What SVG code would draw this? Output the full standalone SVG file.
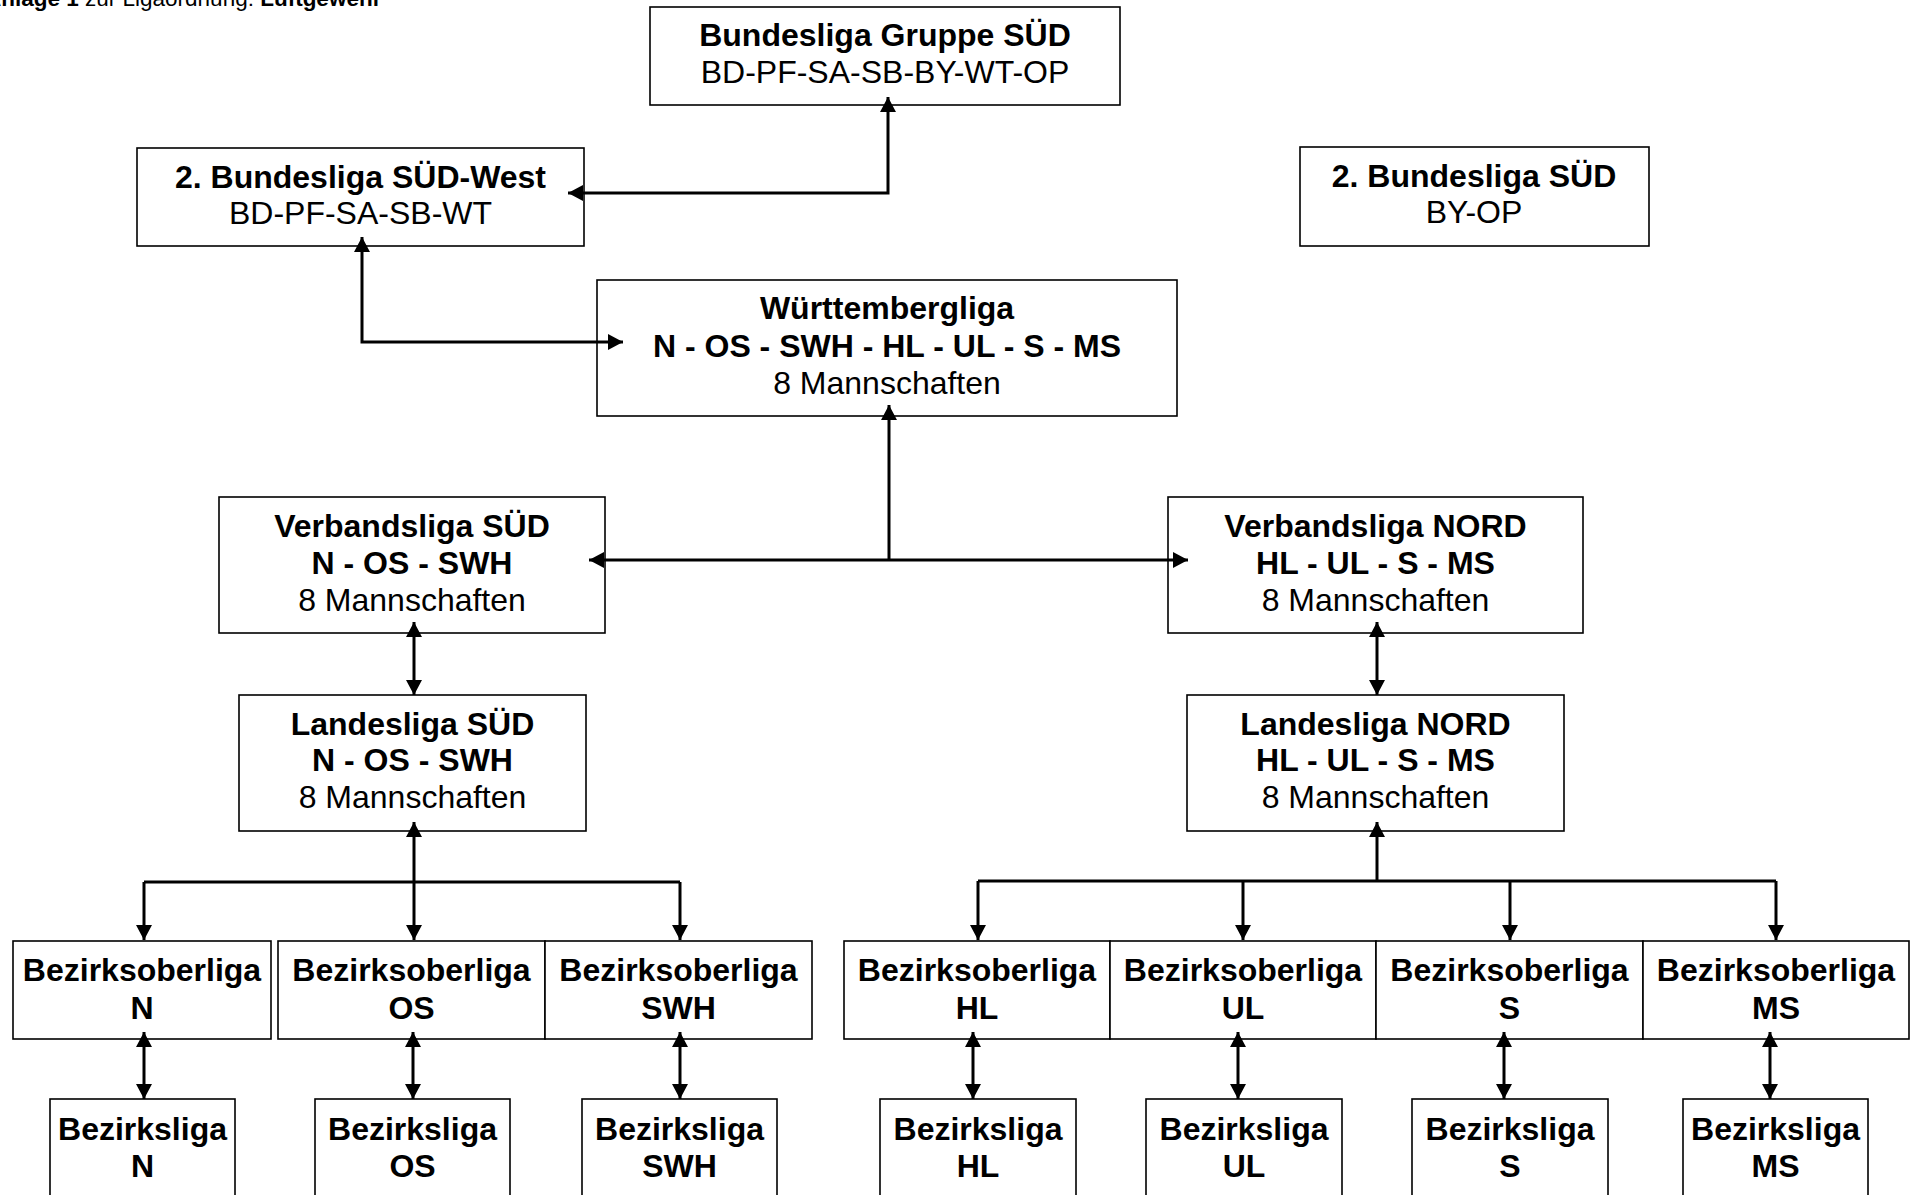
<svg xmlns="http://www.w3.org/2000/svg" width="1910" height="1195" viewBox="0 0 1910 1195">
<defs>
<style>
.box{fill:#fff;stroke:#000;stroke-width:1.6}
.c{fill:none;stroke:#000;stroke-width:3}
text{font-family:"Liberation Sans",Arial,sans-serif;font-size:32px;text-anchor:middle;fill:#000}
.b{font-weight:bold}
.hd{font-size:22.5px;text-anchor:start}
</style>
<marker id="ah" viewBox="0 0 15 16" refX="15" refY="8" markerWidth="15" markerHeight="16" markerUnits="userSpaceOnUse" orient="auto-start-reverse">
<path d="M0,0 L15,8 L0,16 z" fill="#000"/>
</marker>
</defs>
<rect width="1910" height="1195" fill="#fff"/>
<text class="hd" x="-15" y="6"><tspan class="b">Anlage 1</tspan> zur Ligaordnung: <tspan class="b">Luftgewehr</tspan></text>

<g id="bl-gruppe-sued">
<rect class="box" x="650" y="7" width="470" height="98"/>
<text x="885" y="46" class="b">Bundesliga Gruppe SÜD</text>
<text x="885" y="83">BD-PF-SA-SB-BY-WT-OP</text>
</g>
<g id="bl2-sued-west">
<rect class="box" x="137" y="148" width="447" height="98"/>
<text x="360.5" y="188" class="b">2. Bundesliga SÜD-West</text>
<text x="360.5" y="224">BD-PF-SA-SB-WT</text>
</g>
<g id="bl2-sued">
<rect class="box" x="1300" y="147" width="349" height="99"/>
<text x="1474" y="187" class="b">2. Bundesliga SÜD</text>
<text x="1474" y="223">BY-OP</text>
</g>
<g id="wuerttembergliga">
<rect class="box" x="597" y="280" width="580" height="136"/>
<text x="887" y="319" class="b">Württembergliga</text>
<text x="887" y="357" class="b">N - OS - SWH - HL - UL - S - MS</text>
<text x="887" y="394">8 Mannschaften</text>
</g>
<g id="verbandsliga-sued">
<rect class="box" x="219" y="497" width="386" height="136"/>
<text x="412" y="537" class="b">Verbandsliga SÜD</text>
<text x="412" y="574" class="b">N - OS - SWH</text>
<text x="412" y="611">8 Mannschaften</text>
</g>
<g id="verbandsliga-nord">
<rect class="box" x="1168" y="497" width="415" height="136"/>
<text x="1375.5" y="537" class="b">Verbandsliga NORD</text>
<text x="1375.5" y="574" class="b">HL - UL - S - MS</text>
<text x="1375.5" y="611">8 Mannschaften</text>
</g>
<g id="landesliga-sued">
<rect class="box" x="239" y="695" width="347" height="136"/>
<text x="412.5" y="735" class="b">Landesliga SÜD</text>
<text x="412.5" y="771" class="b">N - OS - SWH</text>
<text x="412.5" y="808">8 Mannschaften</text>
</g>
<g id="landesliga-nord">
<rect class="box" x="1187" y="695" width="377" height="136"/>
<text x="1375.5" y="735" class="b">Landesliga NORD</text>
<text x="1375.5" y="771" class="b">HL - UL - S - MS</text>
<text x="1375.5" y="808">8 Mannschaften</text>
</g>

<g id="bol-n"><rect class="box" x="13" y="941" width="258" height="98"/><text x="142" y="981" class="b">Bezirksoberliga</text><text x="142" y="1019" class="b">N</text></g>
<g id="bol-os"><rect class="box" x="278" y="941" width="267" height="98"/><text x="411.5" y="981" class="b">Bezirksoberliga</text><text x="411.5" y="1019" class="b">OS</text></g>
<g id="bol-swh"><rect class="box" x="545" y="941" width="267" height="98"/><text x="678.5" y="981" class="b">Bezirksoberliga</text><text x="678.5" y="1019" class="b">SWH</text></g>
<g id="bol-hl"><rect class="box" x="844" y="941" width="266" height="98"/><text x="977" y="981" class="b">Bezirksoberliga</text><text x="977" y="1019" class="b">HL</text></g>
<g id="bol-ul"><rect class="box" x="1110" y="941" width="266" height="98"/><text x="1243" y="981" class="b">Bezirksoberliga</text><text x="1243" y="1019" class="b">UL</text></g>
<g id="bol-s"><rect class="box" x="1376" y="941" width="267" height="98"/><text x="1509.5" y="981" class="b">Bezirksoberliga</text><text x="1509.5" y="1019" class="b">S</text></g>
<g id="bol-ms"><rect class="box" x="1643" y="941" width="266" height="98"/><text x="1776" y="981" class="b">Bezirksoberliga</text><text x="1776" y="1019" class="b">MS</text></g>

<g id="bl-n"><rect class="box" x="50" y="1099" width="185" height="120"/><text x="142.5" y="1140" class="b">Bezirksliga</text><text x="142.5" y="1177" class="b">N</text></g>
<g id="bl-os"><rect class="box" x="315" y="1099" width="195" height="120"/><text x="412.5" y="1140" class="b">Bezirksliga</text><text x="412.5" y="1177" class="b">OS</text></g>
<g id="bl-swh"><rect class="box" x="582" y="1099" width="195" height="120"/><text x="679.5" y="1140" class="b">Bezirksliga</text><text x="679.5" y="1177" class="b">SWH</text></g>
<g id="bl-hl"><rect class="box" x="880" y="1099" width="196" height="120"/><text x="978" y="1140" class="b">Bezirksliga</text><text x="978" y="1177" class="b">HL</text></g>
<g id="bl-ul"><rect class="box" x="1146" y="1099" width="196" height="120"/><text x="1244" y="1140" class="b">Bezirksliga</text><text x="1244" y="1177" class="b">UL</text></g>
<g id="bl-s"><rect class="box" x="1412" y="1099" width="196" height="120"/><text x="1510" y="1140" class="b">Bezirksliga</text><text x="1510" y="1177" class="b">S</text></g>
<g id="bl-ms"><rect class="box" x="1683" y="1099" width="185" height="120"/><text x="1775.5" y="1140" class="b">Bezirksliga</text><text x="1775.5" y="1177" class="b">MS</text></g>

<g id="connectors">
<path class="c" d="M568,193 H888 V97" marker-start="url(#ah)" marker-end="url(#ah)"/>
<path class="c" d="M362,237 V342 H623" marker-start="url(#ah)" marker-end="url(#ah)"/>
<path class="c" d="M889,405 V560" marker-start="url(#ah)"/>
<path class="c" d="M589,560 H1188" marker-start="url(#ah)" marker-end="url(#ah)"/>
<path class="c" d="M414,622 V695" marker-start="url(#ah)" marker-end="url(#ah)"/>
<path class="c" d="M1377,622 V695" marker-start="url(#ah)" marker-end="url(#ah)"/>
<path class="c" d="M414,822 V940" marker-start="url(#ah)" marker-end="url(#ah)"/>
<path class="c" d="M144,882 H680"/>
<path class="c" d="M144,882 V940" marker-end="url(#ah)"/>
<path class="c" d="M680,882 V940" marker-end="url(#ah)"/>
<path class="c" d="M1377,822 V881" marker-start="url(#ah)"/>
<path class="c" d="M978,881 H1776"/>
<path class="c" d="M978,881 V940" marker-end="url(#ah)"/>
<path class="c" d="M1243,881 V940" marker-end="url(#ah)"/>
<path class="c" d="M1510,881 V940" marker-end="url(#ah)"/>
<path class="c" d="M1776,881 V940" marker-end="url(#ah)"/>
<path class="c" d="M144,1032 V1099" marker-start="url(#ah)" marker-end="url(#ah)"/>
<path class="c" d="M413,1032 V1099" marker-start="url(#ah)" marker-end="url(#ah)"/>
<path class="c" d="M680,1032 V1099" marker-start="url(#ah)" marker-end="url(#ah)"/>
<path class="c" d="M973,1032 V1099" marker-start="url(#ah)" marker-end="url(#ah)"/>
<path class="c" d="M1238,1032 V1099" marker-start="url(#ah)" marker-end="url(#ah)"/>
<path class="c" d="M1504,1032 V1099" marker-start="url(#ah)" marker-end="url(#ah)"/>
<path class="c" d="M1770,1032 V1099" marker-start="url(#ah)" marker-end="url(#ah)"/>
</g>
</svg>
